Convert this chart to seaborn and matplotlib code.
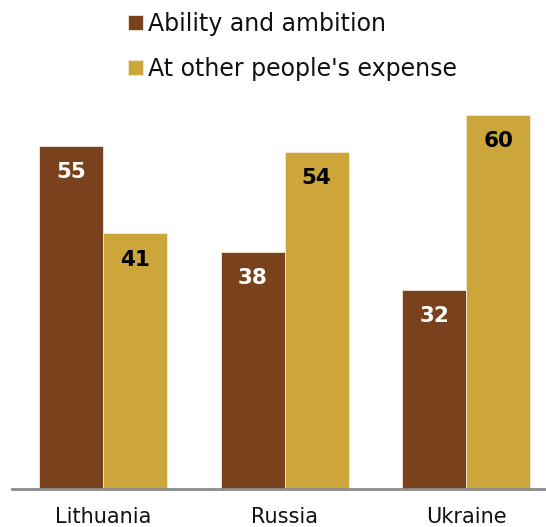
import matplotlib
matplotlib.use("Agg")
import matplotlib.pyplot as plt
import seaborn as sns
import pandas as pd

countries = ["Lithuania", "Russia", "Ukraine"]
series_names = ["Ability and ambition", "At other people's expense"]
ability = [55, 38, 32]
expense = [41, 54, 60]

colors = ["#7A411D", "#CCA63A"]
label_colors = ["white", "black"]

df = pd.DataFrame({
    "country": countries * 2,
    "series": [series_names[0]] * 3 + [series_names[1]] * 3,
    "value": ability + expense,
})

sns.set_theme(style="white")
plt.rcParams["font.family"] = ["DejaVu Sans"]

fig = plt.figure(figsize=(5.46, 5.27), dpi=100)
ax = fig.add_axes([12 / 546, 38 / 527, 1 - 12 / 546, 389 / 527])

sns.barplot(data=df, x="country", y="value", hue="series", order=countries,
            hue_order=series_names, palette=colors, width=0.705,
            saturation=1, edgecolor="#f3ead8", linewidth=0.6, ax=ax)

ax.set_xlim(-0.501, 2.44)
ax.set_ylim(0, 62.4)
ax.set_xlabel("")
ax.set_ylabel("")
ax.set_yticks([])
for side in ["top", "right", "left"]:
    ax.spines[side].set_visible(False)
ax.spines["bottom"].set_color("#8c8c8c")
ax.spines["bottom"].set_linewidth(2)
ax.tick_params(axis="x", length=0, pad=13, labelsize=15, labelcolor="#111111")

for container, tc in zip(ax.containers, label_colors):
    ax.bar_label(container, padding=-26, color=tc, fontsize=15.5,
                 fontweight="bold")

handles, labels = ax.get_legend_handles_labels()
ax.legend_.remove()
fig.legend(handles, labels, loc="upper left", bbox_to_anchor=(107 / 546, 1.018),
           frameon=False, fontsize=17, handlelength=0.63, handleheight=0.63,
           handletextpad=0.22, labelspacing=0.9, labelcolor="#111111")

fig.savefig("out.png", dpi=100)
